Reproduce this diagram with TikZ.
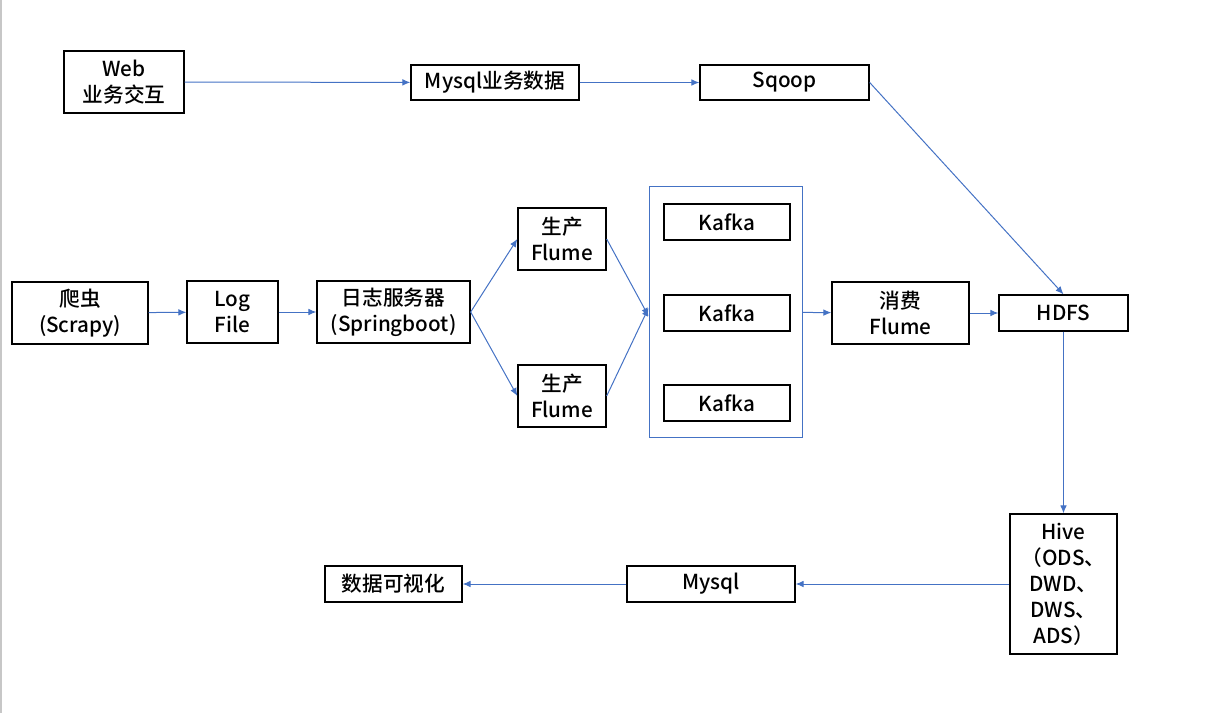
\documentclass[tikz,border=0pt]{standalone}
\usepackage{fontspec}
\setmainfont{Noto Sans CJK SC}[BoldFont={Noto Sans CJK SC Medium}]
\usetikzlibrary{arrows.meta}
\definecolor{flowblue}{RGB}{68,114,196}

\tikzset{every picture/.style={line width=0.75pt}}
\tikzset{
  box/.style={draw=black, line width=1pt, inner sep=0.75pt, align=center,
    font=\fontsize{15.5}{19.5}\selectfont\bfseries},
  flow/.style={draw=flowblue, line width=0.75pt, -{Latex[length=6pt,width=5pt]}},
}

\begin{document}
\begin{tikzpicture}[x=0.75pt,y=0.75pt,yscale=-1,xscale=1]
\useasboundingbox (0,0) rectangle (1228,713);
\draw [black!22, line width=1.5pt] (1,0) -- (1,713);

% Top row
\node [box, minimum width=90pt, minimum height=46.5pt] (web) at (124,82) {Web\\业务交互};
\node [box, minimum width=126pt, minimum height=26.25pt] (bizdb) at (495,82.5) {Mysql业务数据};
\node [box, minimum width=126.75pt, minimum height=26.25pt] (sqoop) at (784.5,82.5) {Sqoop};

% Middle row
\node [box, minimum width=102pt, minimum height=46.5pt] (spider) at (80,313) {爬虫\\(Scrapy)};
\node [box, minimum width=68.25pt, minimum height=46.5pt] (logfile) at (232.5,312) {Log\\File};
\node [box, minimum width=114.75pt, minimum height=46.5pt] (logsrv) at (393.5,312) {日志服务器\\(Springboot)};
\node [box, minimum width=66pt, minimum height=46.5pt] (flumeup) at (562,239) {生产\\Flume};
\node [box, minimum width=66pt, minimum height=46.5pt] (flumedown) at (562,396) {生产\\Flume};

% Kafka cluster
\node [draw=flowblue, line width=0.75pt, minimum width=114.75pt, minimum height=187.5pt] (kafkabox) at (725.5,312) {};
\node [box, minimum width=94.5pt, minimum height=27pt] (kafkaa) at (727,222) {Kafka};
\node [box, minimum width=94.5pt, minimum height=27pt] (kafkab) at (727,313) {Kafka};
\node [box, minimum width=94.5pt, minimum height=27pt] (kafkac) at (727,403) {Kafka};

\node [box, minimum width=102.75pt, minimum height=46.5pt] (flumecons) at (900.5,313) {消费\\Flume};
\node [box, minimum width=96.75pt, minimum height=27pt] (hdfs) at (1063.5,313) {HDFS};

% Bottom row
\node [box, minimum width=80.25pt, minimum height=105pt] (hive) at (1063.5,584) {Hive\\（ODS、\\DWD、\\DWS、\\ADS）};
\node [box, minimum width=126pt, minimum height=27pt] (mysql) at (711,584) {Mysql};
\node [box, minimum width=102.75pt, minimum height=27pt] (viz) at (393.5,584) {数据可视化};

% Arrows
\draw [flow] (web) -- (bizdb);
\draw [flow] (bizdb) -- (sqoop);
\draw [flow] (sqoop.east) -- (hdfs.north);
\draw [flow] (spider) -- (logfile);
\draw [flow] (logfile) -- (logsrv);
\draw [flow] (logsrv.east) -- (flumeup.west);
\draw [flow] (logsrv.east) -- (flumedown.west);
\draw [flow] (flumeup.east) -- ([yshift=3pt]kafkabox.west);
\draw [flow] (flumedown.east) -- ([yshift=-3pt]kafkabox.west);
\draw [flow] (kafkabox) -- (flumecons);
\draw [flow] (flumecons) -- (hdfs);
\draw [flow] (hdfs) -- (hive);
\draw [flow] (hive) -- (mysql);
\draw [flow] (mysql) -- (viz);

\end{tikzpicture}
\end{document}
